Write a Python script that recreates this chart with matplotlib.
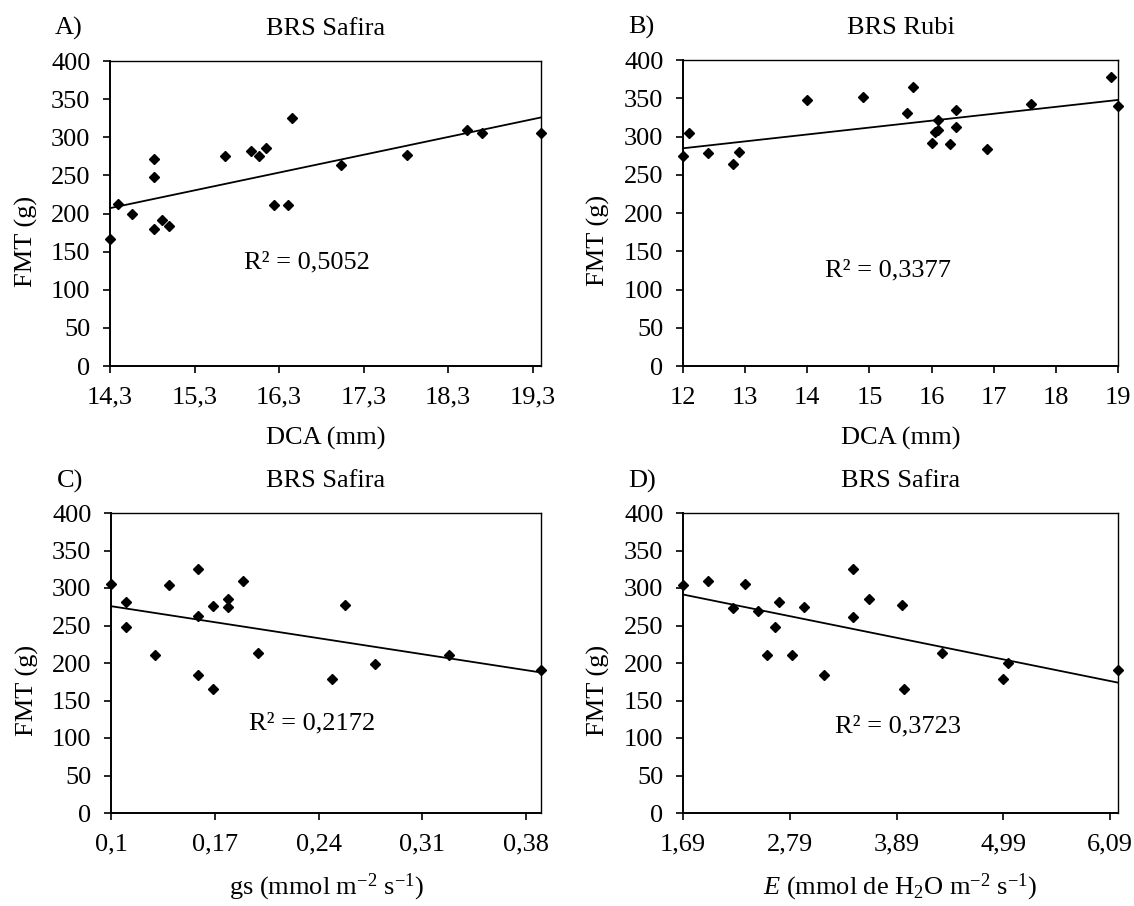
import numpy as np
import matplotlib
matplotlib.use("Agg")
import matplotlib.pyplot as plt

plt.rcParams["font.family"] = ["Liberation Serif", "DejaVu Serif"]
plt.rcParams["mathtext.fontset"] = "custom"
plt.rcParams["mathtext.rm"] = "Liberation Serif"
plt.rcParams["mathtext.it"] = "Liberation Serif:italic"
plt.rcParams["font.size"] = 19

# A) BRS Safira - FMT vs DCA
dca_safira = [14.30, 14.39, 14.56, 14.82, 14.82, 14.82, 14.91, 15.00, 15.66, 15.97,
              16.06, 16.15, 16.24, 16.41, 16.45, 17.03, 17.82, 18.53, 18.70, 19.40]
fmt_safira_dca = [166, 213, 200, 271, 248, 180, 192, 184, 275, 282,
                  276, 286, 211, 211, 325, 263, 277, 310, 306, 305]

# B) BRS Rubi - FMT vs DCA
dca_rubi = [12.0, 12.1, 12.4, 12.8, 12.9, 14.0, 14.9, 15.6, 15.7, 16.0,
            16.05, 16.1, 16.1, 16.3, 16.4, 16.4, 16.9, 17.6, 18.88, 19.0]
fmt_rubi = [274, 305, 279, 264, 280, 348, 351, 331, 365, 291,
            306, 308, 322, 290, 335, 313, 284, 343, 378, 340]

# C) BRS Safira - FMT vs gs
gs_safira = [0.100, 0.110, 0.110, 0.130, 0.139, 0.159, 0.159, 0.159, 0.169, 0.169,
             0.179, 0.179, 0.189, 0.199, 0.249, 0.258, 0.278, 0.328, 0.390]
fmt_safira_gs = [306, 282, 248, 211, 304, 325, 263, 184, 276, 166,
                 286, 275, 309, 213, 179, 277, 199, 211, 191]

# D) BRS Safira - FMT vs E
e_safira = [1.69, 1.95, 2.21, 2.33, 2.46, 2.56, 2.64, 2.68, 2.81, 2.94,
            3.14, 3.44, 3.44, 3.61, 3.95, 3.97, 4.36, 4.99, 5.04, 6.17]
fmt_safira_e = [304, 309, 274, 305, 270, 211, 248, 282, 211, 275,
                184, 325, 262, 286, 277, 166, 213, 179, 200, 191]

r2_labels = ["R² = 0,5052", "R² = 0,3377", "R² = 0,2172", "R² = 0,3723"]
titles = ["BRS Safira", "BRS Rubi", "BRS Safira", "BRS Safira"]
letters = ["A)", "B)", "C)", "D)"]
xlabels = ["DCA (mm)", "DCA (mm)",
           "gs (mmol m$^{-2}$ s$^{-1}$)",
           "$\\mathit{E}$ (mmol de H$_{2}$O m$^{-2}$ s$^{-1}$)"]

xticks_a = [14.3, 15.3, 16.3, 17.3, 18.3, 19.3]
xticks_b = [12, 13, 14, 15, 16, 17, 18, 19]
xticks_c = [0.10, 0.17, 0.24, 0.31, 0.38]
xticks_d = [1.69, 2.79, 3.89, 4.99, 6.09]
yticks = [0, 50, 100, 150, 200, 250, 300, 350, 400]

W, H = 1134, 906
fig = plt.figure(figsize=(W / 100, H / 100), dpi=100)


def box(l, r, t, b):
    return [l / W, 1 - b / H, (r - l) / W, (b - t) / H]


panels = [
    (box(110, 541, 61, 366), dca_safira, fmt_safira_dca, (14.3, 19.4), xticks_a,
     ["14,3", "15,3", "16,3", "17,3", "18,3", "19,3"], (0.457, 0.338), -0.236),
    (box(683, 1118, 60, 366), dca_rubi, fmt_rubi, (12, 19), xticks_b,
     [str(v) for v in xticks_b], (0.471, 0.313), -0.236),
    (box(111, 541, 513, 813), gs_safira, fmt_safira_gs, (0.1, 0.39), xticks_c,
     ["0,1", "0,17", "0,24", "0,31", "0,38"], (0.467, 0.298), -0.248),
    (box(683, 1118, 513, 813), e_safira, fmt_safira_e, (1.69, 6.17), xticks_d,
     ["1,69", "2,79", "3,89", "4,99", "6,09"], (0.494, 0.288), -0.248),
]

for i, (rect, x, y, xlim, xt, xtl, r2pos, xlab_y) in enumerate(panels):
    ax = fig.add_axes(rect)
    x = np.array(x)
    y = np.array(y)
    ax.plot(x, y, "D", color="black", markersize=5.5, clip_on=False, zorder=3)

    # linear trend line over the data range
    k, c = np.polyfit(x, y, 1)
    xs = np.array([x.min(), x.max()])
    ax.plot(xs, k * xs + c, color="black", linewidth=1.3, clip_on=False, zorder=2)

    ax.set_xlim(*xlim)
    ax.set_ylim(0, 400)
    ax.set_xticks(xt)
    ax.set_xticklabels(xtl)
    ax.set_yticks(yticks)
    ax.tick_params(axis="both", direction="out", length=5, width=1.2,
                   colors="black", labelsize=19)
    ax.tick_params(axis="y", pad=9)
    ax.tick_params(axis="x", pad=10)
    for s in ["left", "bottom"]:
        ax.spines[s].set_linewidth(1.4)
    for s in ["top", "right"]:
        ax.spines[s].set_linewidth(1.0)

    ax.text(r2pos[0], r2pos[1], r2_labels[i], transform=ax.transAxes,
            ha="center", va="center", fontsize=19)
    ax.set_title(titles[i], fontsize=19, pad=19)
    ax.text(-0.095, 1.0 + 26.0 / 305, letters[i], transform=ax.transAxes,
            ha="center", va="baseline", fontsize=19)

    ax.set_xlabel(xlabels[i], fontsize=19, va="center")
    ax.xaxis.set_label_coords(0.5, xlab_y)
    ax.set_ylabel("FMT (g)", fontsize=19, va="center")
    ax.yaxis.set_label_coords(-0.195, 0.41)

fig.savefig("out.png", dpi=100)
